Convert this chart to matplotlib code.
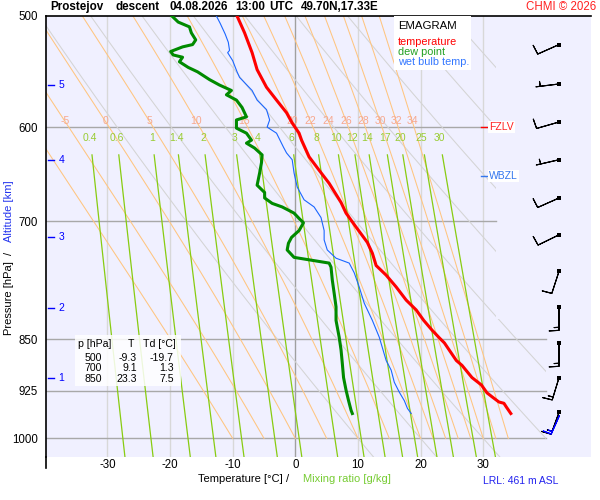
import numpy as np
import matplotlib
matplotlib.use('Agg')
import matplotlib.pyplot as plt
from matplotlib.patches import Polygon, Rectangle

plt.rcParams['font.family'] = ['Liberation Sans', 'DejaVu Sans']

# sounding (hPa, degC)
temp_p = [500, 514, 531, 546, 562, 574, 586, 596, 606, 613, 630, 644, 658, 679, 691, 707, 725, 738,
          753, 765, 780, 797, 810, 824, 837, 848, 855, 880, 887, 905, 916, 928, 934, 942, 944, 950, 960]
temp_t = [-9.3, -8.1, -6.9, -6.1, -4.6, -3.0, -1.4, -0.5, 0.6, 1.0, 2.2, 3.8, 5.4, 7.3, 8.1, 9.7, 11.5, 12.3,
          12.9, 14.5, 16.1, 17.7, 19.3, 20.5, 21.8, 23.0, 23.8, 25.7, 26.6, 28.2, 29.7, 30.6, 31.4, 32.5, 33.3, 33.7, 34.4]

dew_p = [500, 505, 509, 514, 520, 524, 526, 530, 533, 535, 539, 544, 548, 555, 560, 565, 569, 574, 581, 590,
         593, 601, 606, 613, 616, 621, 628, 636, 647, 660, 668, 674, 680, 684, 688, 691, 697, 702, 711, 719,
         726, 734, 743, 746, 750, 755, 771, 788, 806, 824, 847, 865, 884, 905, 924, 940, 955, 960]
dew_t = [-19.7, -18.7, -16.9, -16.6, -15.9, -16.4, -18.0, -19.9, -19.5, -18.0, -18.5, -17.1, -15.6, -13.7, -12.1, -10.2, -11.0, -9.4, -8.5, -7.8,
         -9.4, -9.4, -7.8, -7.0, -7.8, -6.5, -5.3, -5.4, -5.7, -6.1, -4.9, -4.9, -3.7, -2.1, -1.0, -0.2, 0.6, 1.3, 0.6, -0.6,
         -1.1, -1.3, -0.2, 2.2, 5.4, 5.7, 5.9, 6.2, 6.5, 6.5, 7.0, 7.3, 7.5, 7.7, 8.1, 8.5, 8.9, 9.1]

wet_p = [500, 506, 515, 522, 529, 531, 538, 548, 553, 565, 574, 583, 593, 600, 606, 620, 626, 633, 647, 662,
         676, 684, 696, 711, 722, 734, 744, 750, 762, 780, 801, 824, 847, 880, 894, 912, 927, 940, 952, 960]
wet_t = [-12.6, -12.0, -11.2, -10.7, -10.5, -10.8, -10.0, -9.3, -8.9, -6.9, -6.1, -4.6, -4.1, -4.5, -3.0, -1.9, -1.4, -0.5, -0.2, 0.3,
         1.4, 3.0, 4.1, 4.6, 4.6, 5.1, 6.5, 8.6, 9.4, 10.2, 11.0, 12.3, 13.4, 14.5, 15.3, 15.8, 16.6, 17.4, 17.9, 18.5]

# wind (direction deg, speed kt)
wind_p = [524, 559, 595, 633, 674, 716, 760, 806, 855, 905, 958]
wind_dir = [246, 263, 254, 257, 246, 244, 198, 180, 180, 197, 200]
wind_spd = [10, 5, 10, 5, 10, 10, 10, 15, 15, 15, 15]
sfc_p, sfc_dir, sfc_spd = 963, 204, 15

table_p = [500, 700, 850]
table_t = [-9.3, 9.1, 23.3]
table_td = [-19.7, 1.3, 7.5]

alt_km = [1, 2, 3, 4, 5]
alt_p = [906, 808, 719, 633, 560]

p_ticks = [500, 600, 700, 850, 925, 1000]
t_ticks = [-30, -20, -10, 0, 10, 20, 30]

theta_w = [-10, -5, 0, 5, 10, 15, 20, 22, 24, 26, 28, 30, 32, 34]
mix_r = [0.4, 0.6, 1, 1.4, 2, 3, 4, 6, 8, 10, 12, 14, 17, 20, 25, 30]
theta_dry = [10, 20, 30, 40, 50, 60, 70, 80, 90, 100]

fzlv_p = 600
wbzl_p = 650


def moist_slope(T, p):
    tc = T - 273.15
    es = 6.112 * np.exp(17.67 * tc / (tc + 243.5))
    rs = 0.622 * es / (p - es)
    return (287.04 * T + 2.501e6 * rs) / p / (1005.7 + 2.501e6 ** 2 * rs * 0.622 / (287.04 * T * T))


def moist_adiabat(tw):
    # pseudo-adiabat from 1000 hPa up to the top of the chart
    ps = np.arange(1000, 494, -2.0)
    T = tw + 273.15
    out = [T]
    for p0, p1 in zip(ps[:-1], ps[1:]):
        h = p1 - p0
        k1 = moist_slope(T, p0)
        k2 = moist_slope(T + h * k1 / 2, p0 + h / 2)
        k3 = moist_slope(T + h * k2 / 2, p0 + h / 2)
        k4 = moist_slope(T + h * k3, p1)
        T = T + h * (k1 + 2 * k2 + 2 * k3 + k4) / 6
        out.append(T)
    return ps[::-1], np.array(out)[::-1] - 273.15


def mix_line_t(w, p):
    e = w * p / (622.0 + w)
    a = np.log(e / 6.112)
    return 243.5 * a / (17.67 - a)


fig = plt.figure(figsize=(6, 5), dpi=100)
ax = fig.add_axes([46 / 600, 1 - 457 / 500, 545 / 600, 441 / 500])
ax.set_facecolor('#f0f0ff')
ax.set_yscale('log')
ax.set_ylim(1031, 500)
ax.set_xlim(-39.8, 47.2)

clip = Polygon([(-41, 498), (32, 498), (32, 822), (40, 822), (40, 1035), (-41, 1035)],
               closed=True, transform=ax.transData, fill=False, visible=False)

for t in t_ticks:
    ax.axvline(t, color='#a0a0a0' if t == 0 else '#d8d8d8', lw=1, zorder=1)
for p in p_ticks[1:]:
    ax.plot([-40, 32 if p < 800 else 40], [p, p], color='#a8a8a8', lw=1, zorder=1)

pp = np.linspace(498, 1035, 200)
for th in theta_dry:
    ln, = ax.plot((th + 273.15) * (pp / 1000) ** 0.2857 - 273.15, pp, color='#d4d4d4', lw=0.75, zorder=2)
    ln.set_clip_path(clip)

for tw in theta_w:
    p, t = moist_adiabat(tw)
    ln, = ax.plot(t, p, color='#ffc580', lw=0.75, zorder=2)
    ln.set_clip_path(clip)
    t_lab = np.interp(594, p, t)
    if t_lab > -39:
        ax.text(t_lab, 594, str(tw), color='#f7a88e', fontsize=7.5,
                ha='center', va='center', zorder=3)

pm = np.linspace(628, 1035, 100)
for w in mix_r:
    ax.plot(mix_line_t(w, pm), pm, color='#88cc11', lw=0.9, zorder=2)
    ax.text(mix_line_t(w, 611), 611, f'{w:g}', color='#99cc33', fontsize=7.5,
            ha='center', va='center', zorder=3)

ax.plot(wet_t, wet_p, color='#1a66ff', lw=0.8, zorder=4)
ax.plot(dew_t, dew_p, color='#008a00', lw=2.2, zorder=5)
ax.plot(temp_t, temp_p, color='#ff0000', lw=2.2, zorder=5)

# freezing / wet bulb zero levels
ax.plot([29.6, 30.8], [fzlv_p, fzlv_p], color='#ff0000', lw=1, zorder=6)
ax.text(30.9, fzlv_p, 'FZLV', color='#ff2020', fontsize=7.5, va='center', ha='left', zorder=6,
        bbox=dict(facecolor='white', edgecolor='none', pad=0.8))
ax.plot([29.6, 30.8], [wbzl_p, wbzl_p], color='#3377ee', lw=1, zorder=6)
ax.text(30.9, wbzl_p, 'WBZL', color='#3377ee', fontsize=7.5, va='center', ha='left', zorder=6,
        bbox=dict(facecolor='white', edgecolor='none', pad=0.8))

# wind barbs
barb_x = 42.1
wd = np.radians(wind_dir)
ax.barbs([barb_x] * len(wind_p), wind_p, -np.array(wind_spd) * np.sin(wd), -np.array(wind_spd) * np.cos(wd),
         length=5.8, lw=0.8, color='k', sizes=dict(spacing=0.13, height=0.42, width=0.05), zorder=6)
sd = np.radians(sfc_dir)
ax.barbs([barb_x], [sfc_p], [-sfc_spd * np.sin(sd)], [-sfc_spd * np.cos(sd)],
         length=5.4, lw=0.8, color='#0000ff', sizes=dict(spacing=0.13, height=0.42, width=0.05), zorder=7)
ax.scatter([barb_x] * len(wind_p), wind_p, marker='s', s=7, color='k', lw=0, zorder=8)

# altitude marks
for km, p in zip(alt_km, alt_p):
    ax.plot([-39.5, -38.6], [p, p], color='#0000ff', lw=1, zorder=6)
    ax.text(-37.8, p, str(km), color='#0000ff', fontsize=7.5, va='center', ha='left', zorder=6)

ax.set_yticks(p_ticks)
ax.set_yticklabels([str(p) for p in p_ticks])
ax.set_yticks([], minor=True)
ax.set_xticks(t_ticks)
ax.set_xticklabels([str(t) for t in t_ticks])
ax.tick_params(axis='y', length=0, pad=6, labelsize=8.3)
ax.tick_params(axis='x', length=0, pad=1.5, labelsize=8.3)
for s in ['right', 'bottom']:
    ax.spines[s].set_visible(False)
ax.spines['left'].set_linewidth(1.2)
ax.spines['top'].set_linewidth(1.2)
ax.plot([0, 0], [0, -0.025], transform=ax.transAxes, color='k', lw=1.2, clip_on=False)


def fx(x):
    return x / 600


def fy(y):
    return 1 - y / 500


# title line
title_bits = [(50, 'Prostejov'), (115, 'descent'), (169, '04.08.2026'), (235, '13:00'), (269, 'UTC'),
              (301, '49.70N,17.33E')]
for x0, s in title_bits:
    fig.text(fx(x0), fy(7), s, fontsize=8.4, fontweight='bold', va='center')
fig.text(fx(596), fy(7), 'CHMI © 2026', fontsize=8.3, color='#ff2020', va='center', ha='right')

# legend box
fig.patches.append(Rectangle((fx(394), fy(70)), 77 / 600, 54 / 500, transform=fig.transFigure,
                             facecolor='white', edgecolor='none', zorder=5))
fig.text(fx(398), fy(26), 'EMAGRAM', fontsize=8.2, va='center', zorder=6)
fig.text(fx(398), fy(42), 'temperature', fontsize=7.8, color='#ff0000', va='center', zorder=6)
fig.text(fx(398), fy(52), 'dew point', fontsize=7.8, color='#22a022', va='center', zorder=6)
fig.text(fx(398), fy(62), 'wet bulb temp.', fontsize=7.8, color='#3377ff', va='center', zorder=6)

# value table
fig.patches.append(Rectangle((fx(75), fy(386)), 106 / 600, 51 / 500, transform=fig.transFigure,
                             facecolor='white', edgecolor='none', alpha=0.85, zorder=5))
fig.text(fx(78), fy(344), 'p [hPa]', fontsize=7.6, va='center', zorder=6)
fig.text(fx(131), fy(344), 'T', fontsize=7.6, va='center', ha='center', zorder=6)
fig.text(fx(143), fy(344), 'Td [°C]', fontsize=7.6, va='center', zorder=6)
for i, (p, t, td) in enumerate(zip(table_p, table_t, table_td)):
    yy = fy(358 + 10.3 * i)
    fig.text(fx(102), yy, str(p), fontsize=7.6, va='center', ha='right', zorder=6)
    fig.text(fx(137), yy, f'{t:.1f}', fontsize=7.6, va='center', ha='right', zorder=6)
    fig.text(fx(174), yy, f'{td:.1f}', fontsize=7.6, va='center', ha='right', zorder=6)

# axis labels
fig.text(fx(9), fy(298), 'Pressure [hPa]', fontsize=8, rotation=90, va='center', ha='center')
fig.text(fx(9), fy(253), '/', fontsize=8, rotation=90, va='center', ha='center')
fig.text(fx(9), fy(211), 'Altitude [km]', fontsize=8, rotation=90, va='center', ha='center', color='#2233ee')
fig.text(fx(198), fy(479), 'Temperature [°C]', fontsize=8, va='center')
fig.text(fx(288), fy(479), '/', fontsize=8, va='center', ha='center')
fig.text(fx(303), fy(479), 'Mixing ratio [g/kg]', fontsize=8, va='center', color='#77cc33')
fig.text(fx(483), fy(481), 'LRL: 461 m ASL', fontsize=7.5, va='center', color='#2222ee')

fig.savefig('out.png', dpi=100)
